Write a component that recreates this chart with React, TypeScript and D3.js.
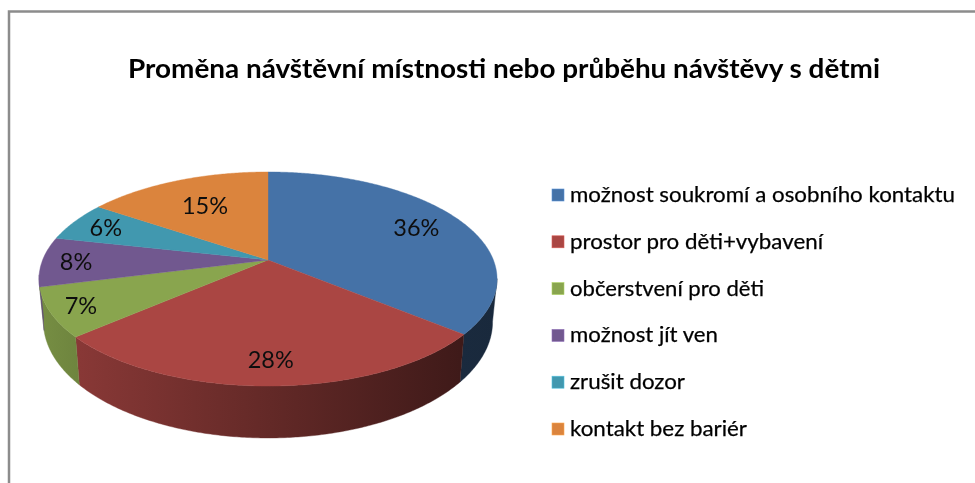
import React from "react";
import * as d3 from "d3";

const title = "Proměna návštěvní místnosti nebo průběhu návštěvy s dětmi";
const categories = ["možnost soukromí a osobního kontaktu", "prostor pro děti+vybavení", "občerstvení pro děti", "možnost jít ven", "zrušit dozor", "kontakt bez bariér"];
const values = [36, 27.6, 7.4, 7.5, 6.01, 15.49];
const colors = ["#4572A7", "#AA4643", "#89A54E", "#71588F", "#4198AF", "#DB843D"];
const labelRadius = [0.77, 0.82, 0.87, 0.85, 0.83, 0.66];
const legendWidths = [385, 253, 194, 148, 115, 177];

const CX = 268, PERSP = -0.1776;
const topDisc = { r: 225.4, b: 260, a: 57.5 };
const baseDisc = { r: 221, b: 301.2, a: 59 };
type Disc = typeof topDisc;
const project = (d: Disc, theta: number, rho = 1): [number, number] => {
  const u = rho * Math.sin(theta), v = -rho * Math.cos(theta);
  const w = 1 + PERSP * v;
  return [CX + (d.r * u) / w, (d.b + d.a * v) / w];
};
const sweep = (from: number, to: number) => {
  const n = Math.max(2, Math.ceil(Math.abs(to - from) / 0.01));
  return d3.range(n + 1).map((i) => from + ((to - from) * i) / n);
};
const line = d3.line<[number, number]>();
const pie = d3.pie<number>().sort(null).value((d) => d);
const slices = pie(values);
const shade = d3.scaleLinear<number>().domain([40, 80, 460, 497]).range([0.86, 0.8, 0.37, 0.36]);
const WALL_START = (100 * Math.PI) / 180, WALL_END = (262 * Math.PI) / 180;
const gradStops = [40, 80, 270, 460, 497];
const FONT = "Lato, Carlito, 'Open Sans', sans-serif";

export default function App() {
  return (
    <svg width={975} height={483} style={{ position: "absolute", left: 0, top: 0, display: "block", background: "#fff" }}>
      <defs>
        <filter id="soft" x="-5%" y="-20%" width="110%" height="140%">
          <feGaussianBlur stdDeviation="0.5" />
        </filter>
        {colors.map((c, i) => (
          <linearGradient key={i} id={`wall${i}`} gradientUnits="userSpaceOnUse" x1={40} x2={497} y1={0} y2={0}>
            {gradStops.map((x) => {
              const rgb = d3.rgb(c), k = shade(x);
              return <stop key={x} offset={(x - 40) / 457} stopColor={d3.rgb(rgb.r * k, rgb.g * k, rgb.b * k).formatHex()} />;
            })}
          </linearGradient>
        ))}
      </defs>

      <path d="M9 483V11.5H975" fill="none" stroke="#8c8c8c" strokeWidth={2.5} />

      <text x={504} y={78} textAnchor="middle" fontFamily={FONT} fontWeight={700} fontSize={26} fill="#000" textLength={752} lengthAdjust="spacingAndGlyphs" filter="url(#soft)">
        {title}
      </text>

      {slices.map((s, i) => {
        const a = Math.max(s.startAngle, WALL_START), b = Math.min(s.endAngle, WALL_END);
        if (a >= b) return null;
        const pts = sweep(a, b);
        const outline = [...pts.map((t) => project(topDisc, t)), ...pts.slice().reverse().map((t) => project(baseDisc, t))];
        return <path key={i} d={line(outline) + "Z"} fill={`url(#wall${i})`} stroke={`url(#wall${i})`} strokeWidth={0.4} />;
      })}

      {slices.map((s, i) => {
        const outline = [[CX, topDisc.b] as [number, number], ...sweep(s.startAngle, s.endAngle).map((t) => project(topDisc, t))];
        return <path key={i} d={line(outline) + "Z"} fill={colors[i]} stroke={colors[i]} strokeWidth={0.4} />;
      })}

      {slices.map((s, i) => {
        const [x, y] = project(topDisc, (s.startAngle + s.endAngle) / 2, labelRadius[i]);
        return (
          <text key={i} x={x} y={y + 8.5} textAnchor="middle" fontFamily={FONT} fontSize={23.5} fill="#111" filter="url(#soft)">
            {Math.round(s.value)}%
          </text>
        );
      })}

      {categories.map((c, i) => {
        const y = 195 + i * 46.8;
        return (
          <g key={c}>
            <rect x={552} y={y - 6} width={12} height={12} fill={colors[i]} stroke={d3.rgb(colors[i]).brighter(0.7).formatHex()} strokeWidth={0.6} />
            <text x={570} y={y + 7} fontFamily={FONT} fontSize={21} fill="#000" stroke="#000" strokeWidth={0.25} textLength={legendWidths[i]} lengthAdjust="spacingAndGlyphs" filter="url(#soft)">
              {c}
            </text>
          </g>
        );
      })}
    </svg>
  );
}
